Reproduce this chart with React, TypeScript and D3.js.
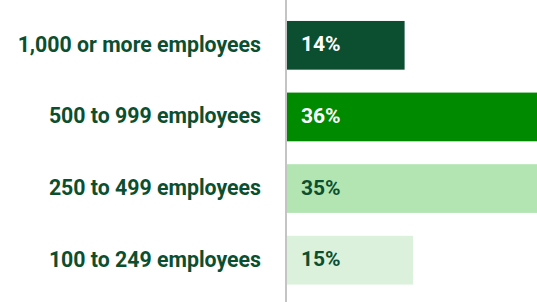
import React from "react";
import * as d3 from "d3";

// Company size categories and share values (%)
const categories = [
  "1,000 or more employees",
  "500 to 999 employees",
  "250 to 499 employees",
  "100 to 249 employees",
];
const values = [14, 36, 35, 15];
const barColors = ["#0b4f30", "#008a00", "#b3e5b3", "#dbf1db"];
const textColors = ["#ffffff", "#ffffff", "#0b4f30", "#0b4f30"];

const width = 537;
const height = 302;
const axisX = 286;
const fontFamily = "Roboto, 'Noto Sans', sans-serif";

const App: React.FC = () => {
  const y = d3
    .scaleBand<string>()
    .domain(categories)
    .range([9.5, 296])
    .paddingInner(0.32)
    .paddingOuter(0.16);

  // 8.4px per percentage point, bars run off the right edge
  const x = d3
    .scaleLinear()
    .domain([0, 36])
    .range([axisX + 1, axisX + 1 + 36 * 8.4]);

  return (
    <svg
      width={width}
      height={height}
      style={{ position: "absolute", left: 0, top: 0, background: "#fff" }}
    >
      {categories.map((c, i) => (
        <g key={c}>
          <rect
            x={x(0)}
            y={y(c)}
            width={x(values[i]) - x(0)}
            height={y.bandwidth()}
            fill={barColors[i]}
          />
          <text
            x={261}
            y={(y(c) || 0) + y.bandwidth() / 2 - 1}
            textAnchor="end"
            dominantBaseline="central"
            fontFamily={fontFamily}
            fontWeight={700}
            fontSize={21.3}
            fill="#0b4f30"
          >
            {c}
          </text>
          <text
            x={x(0) + 14}
            y={(y(c) || 0) + y.bandwidth() / 2 - 1}
            dominantBaseline="central"
            fontFamily={fontFamily}
            fontWeight={700}
            fontSize={21}
            fill={textColors[i]}
          >
            {values[i]}%
          </text>
        </g>
      ))}
      <line x1={axisX} x2={axisX} y1={0} y2={height} stroke="#b0b0b0" strokeWidth={1.5} />
    </svg>
  );
};

export default App;
